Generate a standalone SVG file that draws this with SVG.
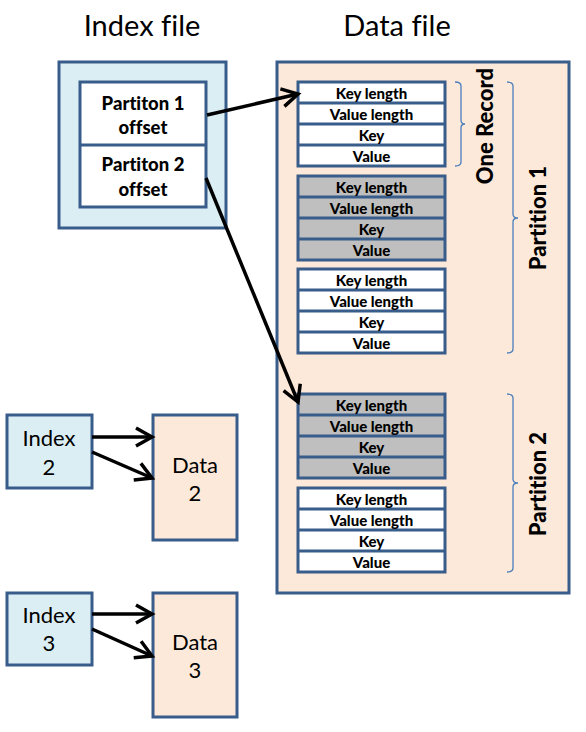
<svg xmlns="http://www.w3.org/2000/svg" width="586" height="732" viewBox="0 0 586 732">
<style>
text{font-family:Lato,"Open Sans","Liberation Sans",sans-serif;fill:#000;text-anchor:middle;font-variant-ligatures:none}
.title{font-size:29px}
.box{stroke:#385D8A;stroke-width:3}
.blue{fill:#DBEEF4}
.peach{fill:#FDE9D9}
.white{fill:#FFFFFF}
.gray{fill:#BFBFBF}
.row{fill:none;stroke:#385D8A;stroke-width:3}
.cell{font-size:15px;font-weight:900}
.off{font-size:18.5px;font-weight:900}
.vert{font-size:22px;font-weight:900}
.small{font-size:22px}
.brace{fill:none;stroke:#4A7EBB;stroke-width:1.3}
.conn{stroke:#000;stroke-width:3.5;fill:none}
</style>
<defs>
<marker id="arr" viewBox="0 0 20 20" refX="17" refY="10" markerWidth="20" markerHeight="20" markerUnits="userSpaceOnUse" orient="auto" overflow="visible">
<path d="M1,1 L17,10 L1,19" fill="none" stroke="#000" stroke-width="3.5" stroke-linejoin="miter"/>
</marker>
<g id="rec">
<rect x="0" y="0" width="147" height="84" class="row"/>
<line x1="0" y1="21" x2="147" y2="21" class="row"/>
<line x1="0" y1="42" x2="147" y2="42" class="row"/>
<line x1="0" y1="63" x2="147" y2="63" class="row"/>
<text x="73.5" y="17" class="cell">Key length</text>
<text x="73.5" y="38" class="cell">Value length</text>
<text x="73.5" y="59" class="cell">Key</text>
<text x="73.5" y="80" class="cell">Value</text>
</g>
</defs>
<rect width="586" height="732" fill="#FFFFFF"/>

<text x="142" y="36" class="title">Index file</text>
<text x="397" y="36" class="title">Data file</text>

<g id="index-file">
<rect x="59" y="62" width="167" height="166" class="box blue"/>
<rect x="80" y="82" width="126" height="125" class="box white"/>
<line x1="80" y1="145" x2="206" y2="145" class="box"/>
<text x="143" y="110" class="off">Partiton 1</text>
<text x="143" y="134" class="off">offset</text>
<text x="143" y="171" class="off">Partiton 2</text>
<text x="143" y="196" class="off">offset</text>
</g>

<g id="data-file">
<rect x="277" y="62" width="292" height="531" class="box peach"/>
</g>

<g id="record-1"><rect x="298" y="82" width="147" height="84" class="white"/><use href="#rec" x="298" y="82"/></g>
<g id="record-2"><rect x="298" y="176" width="147" height="84" class="gray"/><use href="#rec" x="298" y="176"/></g>
<g id="record-3"><rect x="298" y="269" width="147" height="84" class="white"/><use href="#rec" x="298" y="269"/></g>
<g id="record-4"><rect x="298" y="394" width="147" height="84" class="gray"/><use href="#rec" x="298" y="394"/></g>
<g id="record-5"><rect x="298" y="488" width="147" height="84" class="white"/><use href="#rec" x="298" y="488"/></g>

<g id="brace-one-record">
<path d="M455,82 Q461,82 461,86 L461,120 Q461,124 465,124 Q461,124 461,128 L461,162 Q461,166 455,166" class="brace"/>
<text transform="translate(493,126) rotate(-90)" class="vert">One Record</text>
</g>
<g id="brace-partition-1">
<path d="M507,82 Q513,82 513,86 L513,214 Q513,218 518,218 Q513,218 513,222 L513,349 Q513,353 507,353" class="brace"/>
<text transform="translate(546,218) rotate(-90)" class="vert">Partition 1</text>
</g>
<g id="brace-partition-2">
<path d="M507,394 Q513,394 513,398 L513,479 Q513,483 518,483 Q513,483 513,487 L513,568 Q513,572 507,572" class="brace"/>
<text transform="translate(546,484) rotate(-90)" class="vert">Partition 2</text>
</g>

<g id="index-2">
<rect x="7" y="415" width="85" height="73" class="box blue"/>
<text x="49" y="446" class="small">Index</text>
<text x="49" y="475" class="small">2</text>
</g>
<g id="data-2">
<rect x="153" y="415" width="84" height="125" class="box peach"/>
<text x="195" y="473" class="small">Data</text>
<text x="195" y="501" class="small">2</text>
</g>
<g id="index-3">
<rect x="7" y="593" width="85" height="72" class="box blue"/>
<text x="49" y="623" class="small">Index</text>
<text x="49" y="651" class="small">3</text>
</g>
<g id="data-3">
<rect x="153" y="593" width="84" height="124" class="box peach"/>
<text x="195" y="650" class="small">Data</text>
<text x="195" y="678" class="small">3</text>
</g>

<g id="connectors">
<line x1="207" y1="115" x2="298" y2="94" class="conn" marker-end="url(#arr)"/>
<line x1="206" y1="178" x2="298" y2="402" class="conn" marker-end="url(#arr)"/>
<line x1="92" y1="437" x2="152" y2="437" class="conn" marker-end="url(#arr)"/>
<line x1="92" y1="452" x2="152" y2="478" class="conn" marker-end="url(#arr)"/>
<line x1="92" y1="614" x2="152" y2="614" class="conn" marker-end="url(#arr)"/>
<line x1="92" y1="629" x2="152" y2="656" class="conn" marker-end="url(#arr)"/>
</g>
</svg>
